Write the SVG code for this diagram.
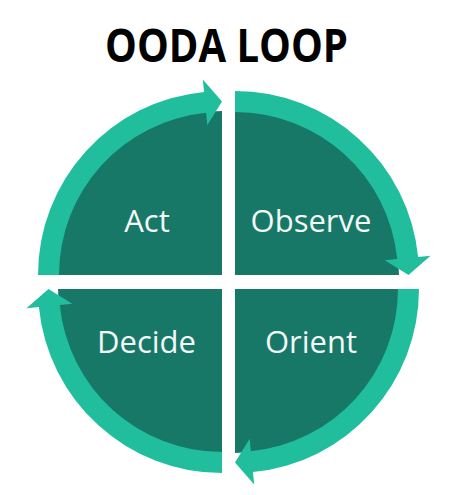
<svg xmlns="http://www.w3.org/2000/svg" xmlns:xlink="http://www.w3.org/1999/xlink" width="462" height="495" viewBox="0 0 462 495">
<style>
.dark{fill:#177868;}
.band{fill:#21BE9D;}
.lbl{font-family:"Open Sans","DejaVu Sans",sans-serif;font-size:31px;fill:#F4F7F6;text-anchor:middle;}
.title{font-family:"Open Sans","Liberation Sans",sans-serif;font-weight:bold;font-size:47px;fill:#000;text-anchor:middle;}
</style>
<defs>
<path id="sector" d="M0,0 L-164,0 A164,164 0 0 1 0,-164 Z"/>
<path id="arc" d="M-184,0 A184,184 0 0 1 -17.96,-183.12 L-19.18,-195.56 L0,-173.5 L-14.69,-149.78 L-15.91,-162.22 A163,163 0 0 0 -163,0 Z"/>
</defs>
<rect width="462" height="495" fill="#fff"/>
<text class="title" x="226.5" y="62" textLength="243" lengthAdjust="spacingAndGlyphs">OODA LOOP</text>
<g id="act">
<use xlink:href="#sector" class="dark" transform="translate(222,275)"/>
<text class="lbl" x="147" y="232">Act</text>
</g>
<g id="observe">
<use xlink:href="#sector" class="dark" transform="translate(235,275) rotate(90)"/>
<text class="lbl" x="311" y="232">Observe</text>
</g>
<g id="orient">
<use xlink:href="#sector" class="dark" transform="translate(235,289) rotate(180)"/>
<text class="lbl" x="311" y="353">Orient</text>
</g>
<g id="decide">
<use xlink:href="#sector" class="dark" transform="translate(222,289) rotate(270)"/>
<text class="lbl" x="146.5" y="353">Decide</text>
</g>
<g id="connectors">
<use xlink:href="#arc" class="band" transform="translate(222,275)"/>
<use xlink:href="#arc" class="band" transform="translate(235,275) rotate(90)"/>
<use xlink:href="#arc" class="band" transform="translate(235,289) rotate(180)"/>
<use xlink:href="#arc" class="band" transform="translate(222,289) rotate(270)"/>
</g>
</svg>
